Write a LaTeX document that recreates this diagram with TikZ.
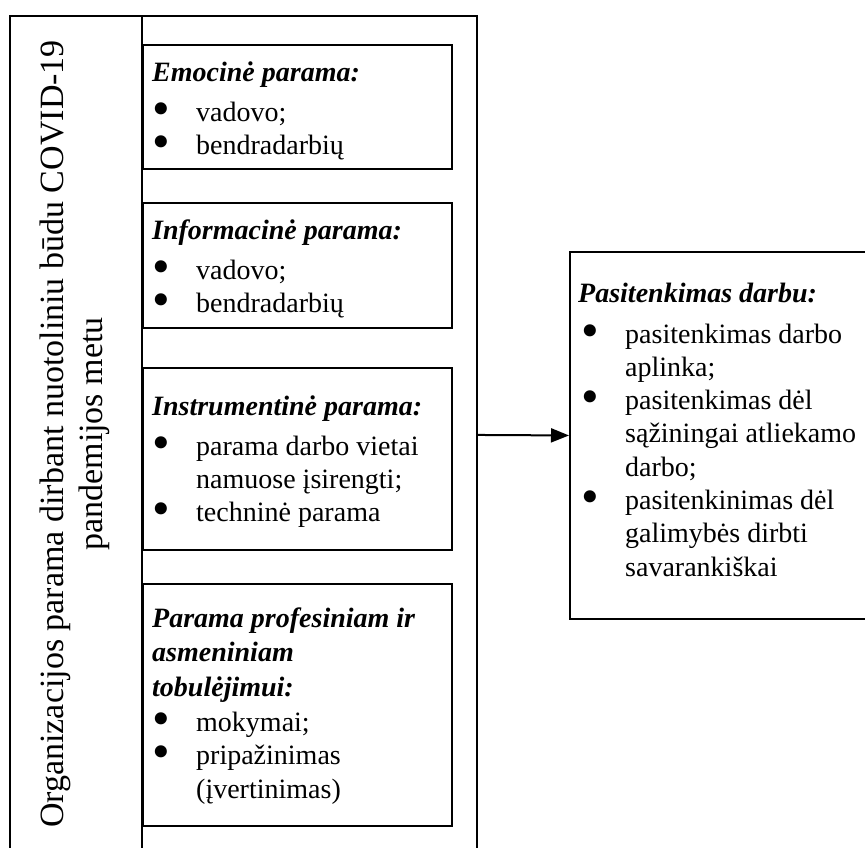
\documentclass[tikz,border=0pt]{standalone}
\usepackage{fontspec}
\setmainfont{Liberation Serif}
\usetikzlibrary{arrows.meta}

% box headers and bullet lines
\newcommand{\hd}[1]{\textbf{\textit{#1}}}
\newcommand{\bdot}{\smash{\raisebox{-4bp}{\scalebox{1.8}{\textbullet}}}}
\newcommand{\bl}{\makebox[44bp][l]{\hspace{0bp}\bdot}}
\newcommand{\ind}{\hspace*{44bp}}
\newcommand{\blr}{\makebox[47bp][l]{\hspace{3bp}\bdot}}
\newcommand{\indr}{\hspace*{47bp}}

\tikzset{
  frame/.style={draw, line width=1.9bp, anchor=north west, inner sep=0pt, fill=white},
  rule/.style={line width=1.9bp},
  txt/.style={anchor=base west, inner sep=0pt, font=\fontsize{28bp}{33.3bp}\selectfont},
  side/.style={rotate=90, align=center, inner sep=0pt, font=\fontsize{34bp}{39bp}\selectfont},
  link/.style={line width=2bp, -{Triangle[length=18bp,width=14bp]}},
}

\begin{document}
\begin{tikzpicture}[x=1bp, y=-1bp]
\useasboundingbox (0,0) rectangle (865,848);

% organisation support column
\node[frame, minimum width=467bp, minimum height=838bp] (outer) at (9,15) {};
\coordinate (divtop) at (142,15);
\coordinate (divbot) at (142,853);
\draw[rule] (divtop) -- (divbot);

\node[side] (title) at (75,434)
  {Organizacijos parama dirbant nuotoliniu būdu COVID-19\\pandemijos metu};

% support types
\node[frame, minimum width=309bp, minimum height=124bp] (emo) at (142,44) {};
\node[txt] (emotxt) at (152,81) {\parbox[t]{295bp}{%
  \hd{Emocinė parama:}\\[6.7bp]
  \bl vadovo;\\
  \bl bendradarbių}};

\node[frame, minimum width=309bp, minimum height=125bp] (info) at (142,202) {};
\node[txt] (infotxt) at (152,239) {\parbox[t]{295bp}{%
  \hd{Informacinė parama:}\\[6.7bp]
  \bl vadovo;\\
  \bl bendradarbių}};

\node[frame, minimum width=309bp, minimum height=182bp] (instr) at (142,367) {};
\node[txt] (instrtxt) at (152,415) {\parbox[t]{295bp}{%
  \hd{Instrumentinė parama:}\\[6.7bp]
  \bl parama darbo vietai\\
  \ind namuose įsirengti;\\
  \bl techninė parama}};

\node[frame, minimum width=309bp, minimum height=242bp] (prof) at (142,583) {};
\node[txt] (proftxt) at (152,627) {\parbox[t]{295bp}{%
  \hd{Parama profesiniam ir}\\[1.5bp]
  \hd{asmeniniam}\\[1.5bp]
  \hd{tobulėjimui:}\\[1.7bp]
  \bl mokymai;\\
  \bl pripažinimas\\
  \ind (įvertinimas)}};

% job satisfaction
\node[frame, minimum width=330bp, minimum height=367bp] (res) at (569,251) {};
\node[txt] (restxt) at (578,302) {\parbox[t]{300bp}{%
  \hd{Pasitenkimas darbu:}\\[7.7bp]
  \blr pasitenkimas darbo\\
  \indr aplinka;\\
  \blr pasitenkimas dėl\\
  \indr sąžiningai atliekamo\\
  \indr darbo;\\
  \blr pasitenkinimas dėl\\
  \indr galimybės dirbti\\
  \indr savarankiškai}};

\draw[link] (outer.east) -- (res.west);
\end{tikzpicture}
\end{document}
